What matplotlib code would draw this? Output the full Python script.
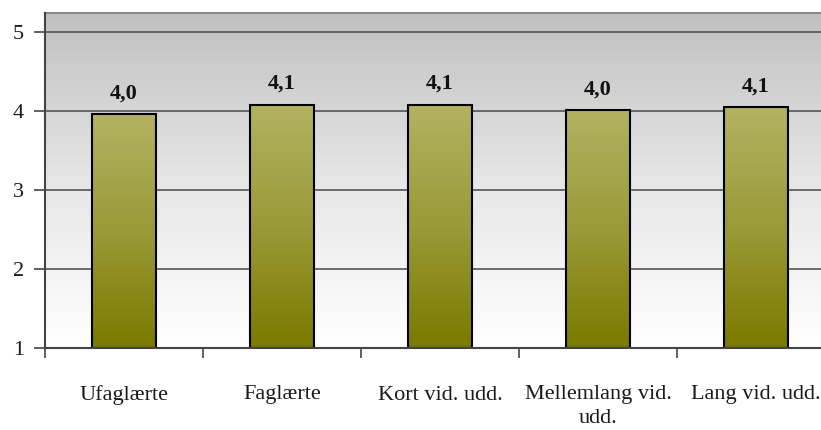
import numpy as np
import matplotlib.pyplot as plt
from matplotlib.colors import LinearSegmentedColormap

categories = ['Ufaglærte', 'Faglærte', 'Kort vid. udd.', 'Mellemlang vid.\nudd.', 'Lang vid. udd.']
values = [3.96, 4.08, 4.08, 4.01, 4.05]
value_labels = ['4,0', '4,1', '4,1', '4,0', '4,1']

plt.rcParams['font.family'] = ['Liberation Serif', 'DejaVu Serif']

fig = plt.figure(figsize=(8.21, 4.30), dpi=100)
ax = fig.add_axes([45 / 821, 82 / 430, 790 / 821, 335 / 430])

ymin, ymax = 1, 1 + 335 / 79
x = np.arange(len(categories))
ax.set_xlim(-0.5, len(categories) - 0.5)
ax.set_ylim(ymin, ymax)

# background gradient: grey at top, white at bottom
bg_cmap = LinearSegmentedColormap.from_list('bg', ['#ffffff', '#e6e6e6', '#c0c0c0'])
grad = np.linspace(0, 1, 256).reshape(-1, 1)
ax.imshow(grad, cmap=bg_cmap, aspect='auto', origin='lower',
          extent=[-0.5, len(categories) - 0.5, ymin, ymax], zorder=0)

for yv in [2, 3, 4, 5]:
    ax.axhline(yv, color='#555555', lw=1.2, zorder=1)

bar_cmap = LinearSegmentedColormap.from_list('bar', ['#7a7a00', '#9a9a38', '#b2b262'])
bars = ax.bar(x, [v - ymin for v in values], bottom=ymin, width=0.405,
              facecolor='none', edgecolor='black', linewidth=1.5, zorder=3)
for b in bars:
    x0, y0 = b.get_x(), b.get_y()
    im = ax.imshow(grad, cmap=bar_cmap, aspect='auto', origin='lower',
                   extent=[x0, x0 + b.get_width(), y0, y0 + b.get_height()], zorder=2)
    im.set_clip_path(b)

for xi, v, lab in zip(x, values, value_labels):
    ax.text(xi, v + 0.2, lab, ha='center', va='baseline', fontsize=16,
            fontweight='bold', color='#111111')

ax.set_yticks([1, 2, 3, 4, 5])
ax.set_yticklabels(['1', '2', '3', '4', '5'], fontsize=16, color='#1a1a1a')
ax.tick_params(axis='y', length=8, width=1.2, color='#444444', pad=7)

ax.set_xticks(x)
ax.set_xticklabels(categories, fontsize=16, color='#1a1a1a', linespacing=1.3)
ax.tick_params(axis='x', which='major', length=0, pad=27)
ax.set_xticks(np.arange(-0.5, len(categories) - 0.5, 1), minor=True)
ax.tick_params(axis='x', which='minor', length=7, width=1.2, color='#444444')

for side in ['left', 'bottom']:
    ax.spines[side].set_color('#444444')
    ax.spines[side].set_linewidth(1.5)
    ax.spines[side].set_zorder(4)
ax.spines['top'].set_color('#888888')
ax.spines['top'].set_linewidth(1.5)
ax.spines['right'].set_visible(False)

fig.savefig('out.png', dpi=100)
